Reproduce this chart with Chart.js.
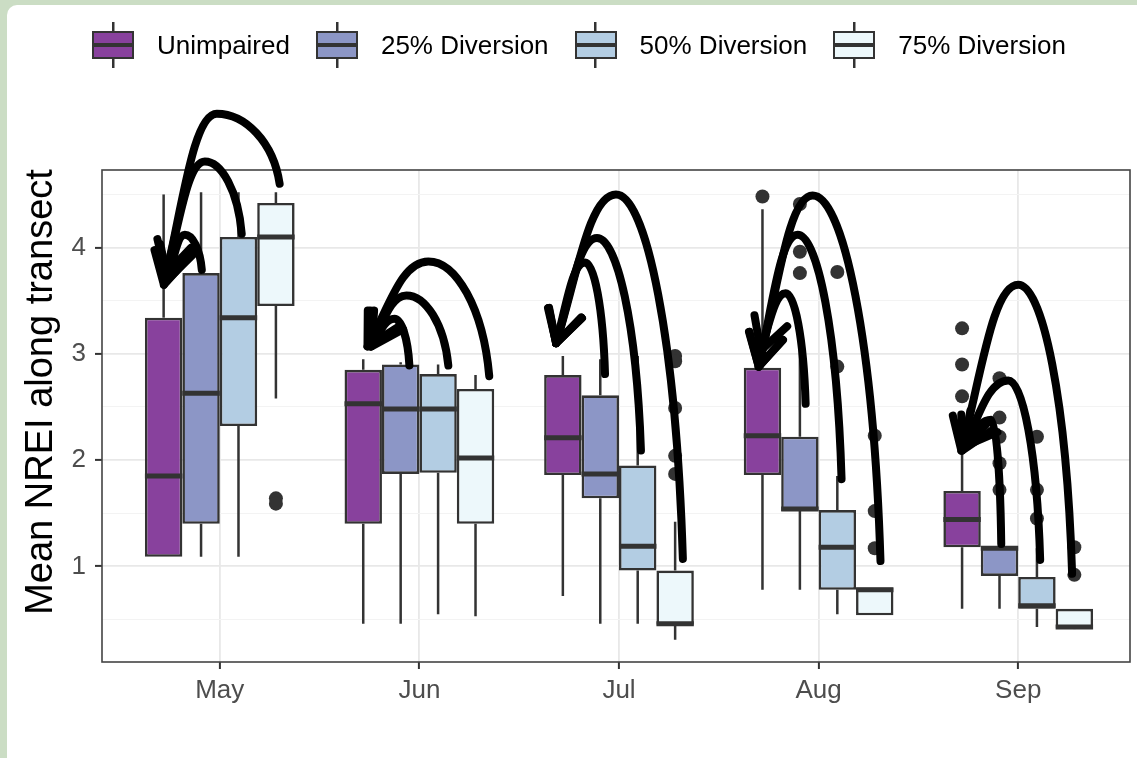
<!DOCTYPE html>
<html>
<head>
<meta charset="utf-8">
<title>Mean NREI by month and flow scenario</title>
<script src="https://cdn.jsdelivr.net/npm/chart.js@4.4.1/dist/chart.umd.min.js"></script>
<style>
  html, body { margin: 0; padding: 0; }
  body {
    width: 1137px; height: 758px; overflow: hidden;
    background: #cbddc4;
    font-family: 'Liberation Sans', Arial, sans-serif;
  }
  .card {
    position: absolute; left: 7px; top: 5px;
    width: 1130px; height: 753px;
    background: #fff; border-top-left-radius: 10px;
  }
  #chart { position: absolute; left: 0; top: 0; }
  #legend {
    position: absolute; left: 85px; top: 17px;
    display: flex; align-items: center;
    font-size: 26px; color: #000; white-space: nowrap;
  }
  .item { display: flex; align-items: center; margin-right: 26px; }
  .key {
    position: relative; width: 42px; height: 46px; margin-right: 23px;
    background: linear-gradient(#333, #333) center / 2.5px 100% no-repeat;
  }
  .key .box {
    position: absolute; left: 0; right: 0; top: 9px; height: 28px;
    box-sizing: border-box; border: 2.5px solid #333;
  }
  .key .box::after {
    content: ''; position: absolute; left: 0; right: 0; top: 50%;
    height: 4px; margin-top: -2px; background: #333;
  }
</style>
</head>
<body>
<div class="card">
  <canvas id="chart" width="1130" height="753"></canvas>
  <div id="legend"></div>
</div>
<script>
const months = ['May', 'Jun', 'Jul', 'Aug', 'Sep'];
const groups = ['Unimpaired', '25% Diversion', '50% Diversion', '75% Diversion'];
const fills = ['#88419d', '#8c96c6', '#b3cde3', '#edf8fb'];
const yTitle = 'Mean NREI along transect';

// box summaries per month: [lower whisker, Q1, median, Q3, upper whisker]
const unimpairedStats = [
    [1.09, 1.09, 1.85, 3.34, 4.50],
    [0.46, 1.40, 2.53, 2.85, 2.95],
    [0.72, 1.86, 2.21, 2.80, 2.98],
    [0.78, 1.86, 2.23, 2.87, 4.36],
    [0.60, 1.18, 1.44, 1.71, 2.20]
];
const div25Stats = [
    [1.09, 1.40, 2.63, 3.76, 4.52],
    [0.46, 1.87, 2.48, 2.90, 2.92],
    [0.46, 1.64, 1.87, 2.61, 2.95],
    [0.78, 1.52, 1.54, 2.22, 3.10],
    [0.60, 0.91, 1.17, 1.18, 1.43]
];
const div50Stats = [
    [1.09, 2.32, 3.34, 4.10, 4.52],
    [0.55, 1.88, 2.48, 2.81, 2.90],
    [0.46, 0.96, 1.19, 1.95, 2.98],
    [0.55, 0.78, 1.18, 1.53, 1.85],
    [0.43, 0.60, 0.63, 0.90, 1.17]
];
const div75Stats = [
    [2.58, 3.45, 4.10, 4.42, 4.52],
    [0.53, 1.40, 2.02, 2.67, 2.80],
    [0.31, 0.45, 0.46, 0.96, 1.42],
    [0.54, 0.54, 0.78, 0.80, 0.80],
    [0.41, 0.42, 0.43, 0.60, 0.60]
];

// points beyond the whiskers, per month
const unimpairedOutliers = [[], [], [], [4.48], [3.24, 2.90, 2.60]];
const div25Outliers = [[], [], [], [4.41, 3.96, 3.76], [2.77, 2.40, 2.22, 1.97, 1.72]];
const div50Outliers = [[], [], [], [3.77, 2.88], [2.22, 1.72, 1.45]];
const div75Outliers = [[1.64, 1.59], [], [2.98, 2.93, 2.49, 2.04, 1.87], [2.23, 1.52, 1.17], [1.18, 0.92]];

// hand-drawn arrows in axis units: [tailX, tailY, peakX, peakY, tipX, tipY]
const arrowPaths = [
    [0.30, 4.60, -0.015, 5.26, -0.28, 3.65],
    [0.11, 4.13, -0.075, 4.81, -0.27, 3.75],
    [-0.09, 3.79, -0.175, 4.12, -0.26, 3.70],
    [1.35, 2.79, 1.045, 3.87, 0.74, 3.07],
    [1.145, 2.89, 0.935, 3.55, 0.755, 3.07],
    [0.95, 2.89, 0.875, 3.33, 0.76, 3.07],
    [2.32, 1.07, 1.985, 4.50, 1.685, 3.10],
    [2.11, 2.09, 1.89, 4.09, 1.685, 3.10],
    [1.93, 2.81, 1.83, 3.86, 1.685, 3.10],
    [3.31, 1.05, 2.97, 4.49, 2.70, 2.88],
    [3.115, 1.82, 2.895, 4.12, 2.70, 2.88],
    [2.935, 2.53, 2.835, 3.57, 2.71, 3.03],
    [4.27, 0.93, 4.0, 3.65, 3.715, 2.09],
    [4.11, 1.06, 3.95, 2.75, 3.72, 2.09],
    [3.915, 1.21, 3.865, 2.38, 3.73, 2.13]
];

const allStats = [unimpairedStats, div25Stats, div50Stats, div75Stats];
const allOutliers = [unimpairedOutliers, div25Outliers, div50Outliers, div75Outliers];
const dodge = 0.75 / groups.length;
const outline = '#333333';
const fontFamily = "'Liberation Sans', Arial, sans-serif";

// boxes (Q1..Q3) as floating bars
const boxDatasets = groups.map((name, i) => ({
    type: 'bar',
    label: name,
    data: allStats[i].map((s, j) => ({ x: j, y: [s[1], s[3]] })),
    backgroundColor: fills[i],
    borderColor: outline,
    borderWidth: 2.6,
    borderSkipped: false,
    categoryPercentage: 0.75,
    barPercentage: 1
}));

// outlier dots, dodged to sit on their box
const outlierDatasets = groups.map((name, i) => ({
    type: 'scatter',
    label: name + ' outliers',
    data: allOutliers[i].flatMap((vals, j) =>
        vals.map(v => ({ x: j + (i - 1.5) * dodge, y: v }))),
    backgroundColor: outline,
    borderWidth: 0,
    pointRadius: 7,
    pointHoverRadius: 7
}));

const isWhole = v => Math.abs(v - Math.round(v)) < 1e-6;

// whiskers behind each box, medians on top of it
const boxPlotLines = {
    id: 'boxPlotLines',
    beforeDatasetDraw(chart, args) {
        if (args.index >= allStats.length) return;
        const ctx = chart.ctx, y = chart.scales.y;
        ctx.save();
        ctx.strokeStyle = outline;
        ctx.lineWidth = 2.5;
        allStats[args.index].forEach((s, j) => {
            const bar = args.meta.data[j];
            ctx.beginPath();
            ctx.moveTo(bar.x, y.getPixelForValue(s[4]));
            ctx.lineTo(bar.x, y.getPixelForValue(s[3]));
            ctx.moveTo(bar.x, y.getPixelForValue(s[1]));
            ctx.lineTo(bar.x, y.getPixelForValue(s[0]));
            ctx.stroke();
        });
        ctx.restore();
    },
    afterDatasetDraw(chart, args) {
        if (args.index >= allStats.length) return;
        const ctx = chart.ctx, y = chart.scales.y;
        ctx.save();
        ctx.strokeStyle = outline;
        ctx.lineWidth = 5;
        allStats[args.index].forEach((s, j) => {
            const bar = args.meta.data[j];
            const my = y.getPixelForValue(s[2]);
            ctx.beginPath();
            ctx.moveTo(bar.x - bar.width / 2, my);
            ctx.lineTo(bar.x + bar.width / 2, my);
            ctx.stroke();
        });
        ctx.restore();
    }
};

// dark frame round the plotting panel
const panelBorder = {
    id: 'panelBorder',
    afterDatasetsDraw(chart) {
        const { ctx, chartArea: a } = chart;
        ctx.save();
        ctx.strokeStyle = '#444';
        ctx.lineWidth = 1.6;
        ctx.strokeRect(a.left, a.top, a.right - a.left, a.bottom - a.top);
        ctx.restore();
    }
};

// rotated y-axis title
const axisTitle = {
    id: 'axisTitle',
    afterDraw(chart) {
        const { ctx, chartArea: a } = chart;
        ctx.save();
        ctx.translate(35, (a.top + a.bottom) / 2 - 24);
        ctx.rotate(-Math.PI / 2);
        ctx.fillStyle = '#000';
        ctx.font = '38px ' + fontFamily;
        ctx.textAlign = 'center';
        ctx.textBaseline = 'middle';
        ctx.fillText(yTitle, 0, 0);
        ctx.restore();
    }
};

// curved arrows drawn over everything
const arrowOverlay = {
    id: 'arrowOverlay',
    afterDraw(chart) {
        const { ctx, scales: { x, y } } = chart;
        ctx.save();
        ctx.strokeStyle = '#000';
        ctx.lineWidth = 8;
        ctx.lineCap = 'round';
        ctx.lineJoin = 'round';
        arrowPaths.forEach(([tx, ty, px, py, hx, hy]) => {
            const t = { x: x.getPixelForValue(tx), y: y.getPixelForValue(ty) };
            const p = { x: x.getPixelForValue(px), y: y.getPixelForValue(py) };
            const h = { x: x.getPixelForValue(hx), y: y.getPixelForValue(hy) };
            const c4 = { x: h.x + 0.35 * (p.x - h.x), y: h.y + 0.45 * (p.y - h.y) };
            ctx.beginPath();
            ctx.moveTo(t.x, t.y);
            ctx.bezierCurveTo(t.x + 0.1 * (p.x - t.x), t.y + 0.6 * (p.y - t.y),
                p.x + 0.45 * (t.x - p.x), p.y, p.x, p.y);
            ctx.bezierCurveTo(p.x + 0.45 * (h.x - p.x), p.y, c4.x, c4.y, h.x, h.y);
            ctx.stroke();

            const ang = Math.atan2(h.y - c4.y, h.x - c4.x);
            const len = 36, spread = 0.5;
            ctx.beginPath();
            ctx.moveTo(h.x - len * Math.cos(ang - spread), h.y - len * Math.sin(ang - spread));
            ctx.lineTo(h.x, h.y);
            ctx.lineTo(h.x - len * Math.cos(ang + spread), h.y - len * Math.sin(ang + spread));
            ctx.stroke();
        });
        ctx.restore();
    }
};

new Chart(document.getElementById('chart'), {
    data: { datasets: [...boxDatasets, ...outlierDatasets] },
    options: {
        responsive: false,
        animation: false,
        layout: { padding: { top: 165, left: 0, right: 5, bottom: 0 } },
        plugins: {
            legend: { display: false },
            tooltip: { enabled: false }
        },
        scales: {
            x: {
                type: 'linear',
                offset: false,
                min: -0.59,
                max: 4.56,
                border: { display: false },
                grid: {
                    offset: false,
                    color: '#e8e8e8',
                    lineWidth: 1.8,
                    tickColor: '#333',
                    tickWidth: 2,
                    tickLength: 7
                },
                ticks: {
                    stepSize: 1,
                    includeBounds: false,
                    padding: 6,
                    color: '#4d4d4d',
                    font: { family: fontFamily, size: 26 },
                    callback: v => months[v] || ''
                },
                afterFit: s => { s.height = 96; }
            },
            y: {
                min: 0.1,
                max: 4.73,
                border: { display: false },
                grid: {
                    color: c => isWhole(c.tick.value) ? '#e8e8e8' : '#f3f3f3',
                    lineWidth: c => isWhole(c.tick.value) ? 1.8 : 1,
                    tickColor: c => isWhole(c.tick.value) ? '#333' : 'rgba(0,0,0,0)',
                    tickWidth: 2,
                    tickLength: 7
                },
                ticks: {
                    stepSize: 0.5,
                    includeBounds: false,
                    padding: 9,
                    color: '#4d4d4d',
                    font: { family: fontFamily, size: 26 },
                    callback: v => isWhole(v) ? String(Math.round(v)) : ''
                },
                afterFit: s => { s.width = 95; }
            }
        }
    },
    plugins: [boxPlotLines, panelBorder, axisTitle, arrowOverlay]
});

// legend keys drawn as small box-and-whisker glyphs
const legend = document.getElementById('legend');
groups.forEach((name, i) => {
    const item = document.createElement('div');
    item.className = 'item';
    const key = document.createElement('span');
    key.className = 'key';
    const box = document.createElement('span');
    box.className = 'box';
    box.style.background = fills[i];
    key.appendChild(box);
    item.appendChild(key);
    item.appendChild(document.createTextNode(name));
    legend.appendChild(item);
});
</script>
</body>
</html>
